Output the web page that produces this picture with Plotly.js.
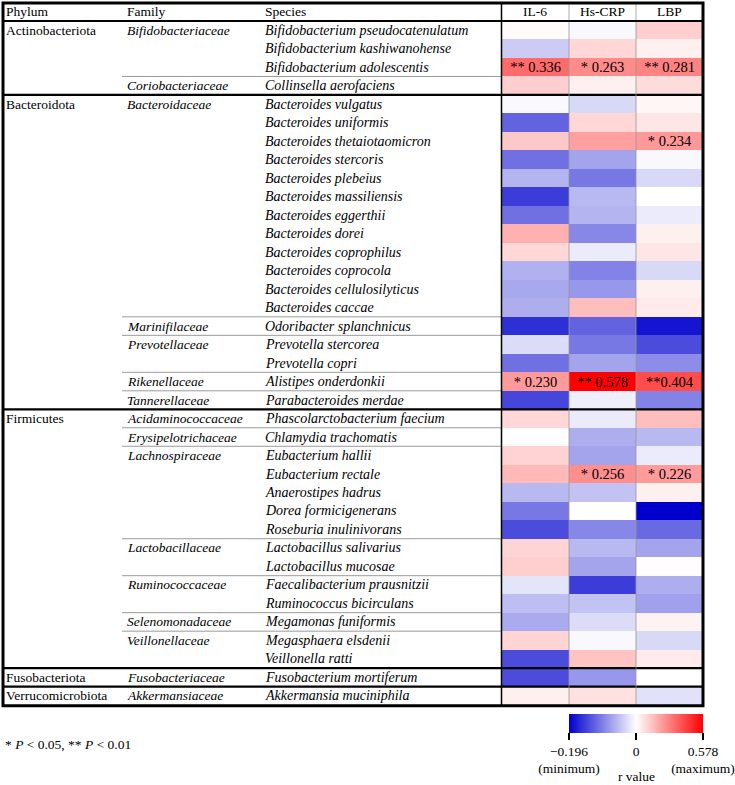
<!DOCTYPE html>
<html>
<head>
<meta charset="utf-8">
<script src="https://cdn.plot.ly/plotly-3.0.1.min.js"></script>
<style>html,body{margin:0;padding:0;background:#fff;}#chart{width:735px;height:785px;}</style>
</head>
<body>
<div id="chart"></div>
<script>
// ---------- DATA ----------
const measures = ['IL-6', 'Hs-CRP', 'LBP'];
const phyla = ['Actinobacteriota', 'Bacteroidota', 'Firmicutes', 'Fusobacteriota', 'Verrucomicrobiota'];
const phylumRowCounts = [4, 17, 14, 1, 1];
const families = ['Bifidobacteriaceae', 'Coriobacteriaceae', 'Bacteroidaceae', 'Marinifilaceae', 'Prevotellaceae',
  'Rikenellaceae', 'Tannerellaceae', 'Acidaminococcaceae', 'Erysipelotrichaceae', 'Lachnospiraceae',
  'Lactobacillaceae', 'Ruminococcaceae', 'Selenomonadaceae', 'Veillonellaceae', 'Fusobacteriaceae', 'Akkermansiaceae'];
const familyRowCounts = [3, 1, 12, 1, 2, 1, 1, 1, 1, 5, 2, 2, 1, 2, 1, 1];
const species = [
  'Bifidobacterium pseudocatenulatum', 'Bifidobacterium kashiwanohense', 'Bifidobacterium adolescentis', 'Collinsella aerofaciens',
  'Bacteroides vulgatus', 'Bacteroides uniformis', 'Bacteroides thetaiotaomicron', 'Bacteroides stercoris', 'Bacteroides plebeius',
  'Bacteroides massiliensis', 'Bacteroides eggerthii', 'Bacteroides dorei', 'Bacteroides coprophilus', 'Bacteroides coprocola',
  'Bacteroides cellulosilyticus', 'Bacteroides caccae', 'Odoribacter splanchnicus', 'Prevotella stercorea', 'Prevotella copri',
  'Alistipes onderdonkii', 'Parabacteroides merdae', 'Phascolarctobacterium faecium', 'Chlamydia trachomatis', 'Eubacterium hallii',
  'Eubacterium rectale', 'Anaerostipes hadrus', 'Dorea formicigenerans', 'Roseburia inulinivorans', 'Lactobacillus salivarius',
  'Lactobacillus mucosae', 'Faecalibacterium prausnitzii', 'Ruminococcus bicirculans', 'Megamonas funiformis', 'Megasphaera elsdenii',
  'Veillonella ratti', 'Fusobacterium mortiferum', 'Akkermansia muciniphila'];
const il6 = [0.010, -0.040, 0.336, 0.110, -0.004, -0.120, 0.125, -0.110, -0.058, -0.150, -0.110, 0.180, 0.090, -0.060, -0.067, -0.062,
  -0.160, -0.027, -0.110, 0.230, -0.142, 0.090, 0.002, 0.100, 0.159, -0.054, -0.104, -0.138, 0.097, 0.110, -0.020, -0.050, -0.065,
  0.097, -0.138, -0.138, 0.035];
const hscrp = [-0.005, 0.090, 0.263, 0.035, -0.030, 0.090, 0.215, -0.070, -0.104, -0.054, -0.058, -0.092, -0.015, -0.096, -0.080, 0.147,
  -0.120, -0.104, -0.070, 0.578, -0.012, -0.015, -0.062, -0.070, 0.256, -0.046, 0.000, -0.092, -0.054, -0.070, -0.150, -0.046, -0.027,
  -0.005, 0.136, -0.080, 0.068];
const lbp = [0.110, 0.035, 0.281, 0.080, 0.020, 0.057, 0.234, -0.005, -0.030, 0.000, -0.015, 0.035, 0.057, -0.030, 0.035, 0.045,
  -0.180, -0.138, -0.088, 0.404, -0.096, 0.147, -0.054, -0.015, 0.226, 0.035, -0.196, -0.115, -0.070, 0.005, -0.062, -0.073, 0.030,
  -0.030, 0.045, 0.000, -0.023];
const il6Labels = {2: '** 0.336', 19: '* 0.230'};
const hscrpLabels = {2: '* 0.263', 19: '** 0.578', 24: '* 0.256'};
const lbpLabels = {2: '** 0.281', 6: '* 0.234', 19: '**0.404', 24: '* 0.226'};
const rMin = -0.196, rMax = 0.578;
const colorbarTickText = ['\u22120.196<br>(minimum)', '0', '0.578<br>(maximum)'];

// ---------- BUILD ----------
const W = 735, H = 785;
const px = x => x / W, py = y => 1 - y / H;
const top0 = 21, rowH = 18.49, nRows = species.length;
const rowY = i => top0 + (i + 0.5) * rowH;
const bndY = i => top0 + i * rowH;
const xL = 3, xR = 703, xHeat = 501.5, xC1 = 569, xC2 = 636, xFam = 122;
const font = 'Liberation Serif, Times New Roman, serif';
const fs = 13.5, fsi = 14;

// color mapping: negative side scaled to min, positive to max (0 at center of scale)
const scale = v => v < 0 ? v / -rMin : v / rMax;
const series = [il6, hscrp, lbp];
const labelSets = [il6Labels, hscrpLabels, lbpLabels];
const z = species.map((s, i) => series.map(a => scale(a[i])));
const text = species.map((s, i) => labelSets.map(l => l[i] || ''));
const custom = species.map((s, i) => series.map(a => a[i]));

const trace = {
  type: 'heatmap', x: measures, y: species, z: z, text: text, customdata: custom,
  texttemplate: '%{text}', textfont: {family: font, size: 14.5, color: '#000'},
  hovertemplate: '%{y}<br>%{x}: %{customdata:.3f}<extra></extra>',
  zmin: -1, zmax: 1,
  colorscale: [[0, 'rgb(0,0,205)'], [0.5, 'rgb(255,255,255)'], [1, 'rgb(255,0,0)']],
  colorbar: {
    orientation: 'h', x: px((xC1 + xR) / 2), xanchor: 'center', y: py(714), yanchor: 'top',
    len: xR - xC1, lenmode: 'pixels', thickness: 19, thicknessmode: 'pixels', xpad: 0, ypad: 0,
    outlinewidth: 0, tickmode: 'array', tickvals: [-1, 0, 1], ticktext: colorbarTickText,
    ticks: 'outside', ticklen: 7, tickwidth: 1.5, tickcolor: '#000',
    tickfont: {family: font, size: fs, color: '#000'}
  }
};

const annotations = [];
const ann = (x, y, t, opts = {}) => annotations.push(Object.assign({
  x: px(x), y: py(y), xref: 'paper', yref: 'paper', text: t, showarrow: false,
  xanchor: 'left', yanchor: 'middle', font: {family: font, size: fs, color: '#000'}
}, opts));
const italicFont = {family: font, size: fsi, color: '#000'};

// header
ann(4, 12, 'Phylum'); ann(125, 12, 'Family'); ann(263, 12, 'Species');
measures.forEach((m, k) => ann(xHeat + (k + 0.5) * 67, 12, m, {xanchor: 'center'}));

const shapes = [];
const line = (x0, y0, x1, y1, w, c) => shapes.push({type: 'line', xref: 'paper', yref: 'paper',
  x0: px(x0), y0: py(y0), x1: px(x1), y1: py(y1), line: {color: c, width: w}});

// phylum labels & separators
let r = 0;
phyla.forEach((p, k) => {
  ann(4, rowY(r), p);
  if (r > 0) line(xL, bndY(r), xR, bndY(r), 2.2, '#000');
  r += phylumRowCounts[k];
});
// family labels & separators
const phylumStarts = [];
{ let s = 0; phylumRowCounts.forEach(n => { phylumStarts.push(s); s += n; }); }
r = 0;
families.forEach((f, k) => {
  ann(125, rowY(r), '<i>' + f + '</i>');
  if (r > 0 && phylumStarts.indexOf(r) < 0) line(xFam, bndY(r), xHeat, bndY(r), 1, '#9a9a9a');
  r += familyRowCounts[k];
});
// species
species.forEach((s, i) => ann(263, rowY(i), '<i>' + s + '</i>', {font: italicFont}));

// vertical lines
line(xC1, 3, xC1, bndY(nRows), 1, 'rgba(150,150,150,0.8)');
line(xC2, 3, xC2, bndY(nRows), 1, 'rgba(150,150,150,0.8)');
line(xHeat, 3, xHeat, bndY(nRows), 1.5, '#000');
// header bottom
line(xL, top0, xR, top0, 2.2, '#000');
// outer border
shapes.push({type: 'rect', xref: 'paper', yref: 'paper', x0: px(xL), y0: py(bndY(nRows) + 0.5), x1: px(xR), y1: py(3),
  line: {color: '#000', width: 3}});

// footnote and colorbar title
ann(3, 744, '* <i>P</i> &lt; 0.05, ** <i>P</i> &lt; 0.01');
ann((xC1 + xR) / 2, 776, 'r value', {xanchor: 'center'});

const layout = {
  width: W, height: H, margin: {l: 0, r: 0, t: 0, b: 0}, paper_bgcolor: '#fff', plot_bgcolor: '#fff',
  showlegend: false,
  xaxis: {domain: [px(xHeat), px(xR)], showticklabels: false, showgrid: false, zeroline: false, ticks: '', fixedrange: true},
  yaxis: {domain: [py(bndY(nRows)), py(top0)], autorange: 'reversed', showticklabels: false, showgrid: false,
    zeroline: false, ticks: '', fixedrange: true},
  annotations: annotations, shapes: shapes
};
Plotly.newPlot('chart', [trace], layout, {displayModeBar: false, staticPlot: true});
</script>
</body>
</html>
